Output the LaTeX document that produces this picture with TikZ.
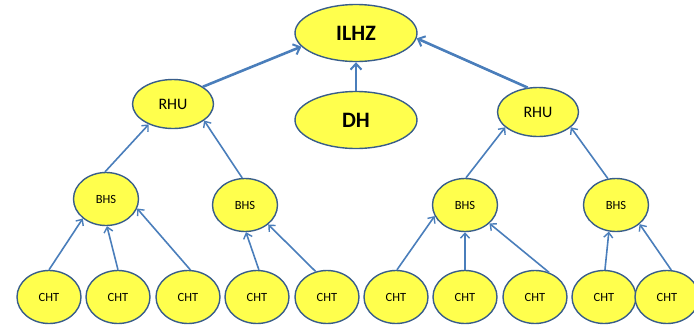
\documentclass[tikz,border=0pt]{standalone}
\usepackage{fontspec}
\setmainfont{Carlito}
\usetikzlibrary{shapes.geometric,arrows.meta}
\definecolor{fillY}{RGB}{255,255,77}
\definecolor{edgeB}{RGB}{56,93,138}
\definecolor{lineB}{RGB}{74,126,187}
\tikzset{
  ell/.style={ellipse,draw=edgeB,fill=fillY,line width=1.4pt,inner sep=0pt,text=black},
  big/.style={ell,minimum width=122pt,minimum height=57pt,font=\fontsize{22}{24}\selectfont\bfseries},
  mid/.style={ell,minimum width=81pt,minimum height=49pt,font=\fontsize{16}{18}\selectfont},
  small/.style={ell,minimum width=65pt,minimum height=53pt,font=\fontsize{12.5}{14}\selectfont},
  leaf/.style={ell,minimum width=64pt,minimum height=53pt,font=\fontsize{12.5}{14}\selectfont},
  thick arr/.style={draw=lineB,line width=2.6pt,-{Straight Barb[length=6pt,width=11pt,line width=2pt]}},
  thin arr/.style={draw=lineB,line width=1.6pt,-{Straight Barb[length=5pt,width=9pt,line width=1.4pt]}},
}
\begin{document}
\begin{tikzpicture}[x=1pt,y=-1pt]
\useasboundingbox (0,0) rectangle (694,325);
% nodes
\node[big] (ilhz) at (356,33) {ILHZ};
\node[big] (dh) at (356,120) {DH};
\node[mid] (rhuL) at (173,104) {RHU};
\node[mid] (rhuR) at (538,112) {RHU};
\node[small] (bhs1) at (106,199) {BHS};
\node[small] (bhs2) at (245,205) {BHS};
\node[small] (bhs3) at (465,205) {BHS};
\node[small] (bhs4) at (616,205) {BHS};
\node[leaf] (c1) at (49,297) {CHT};
\node[leaf] (c2) at (118,297) {CHT};
\node[leaf] (c3) at (188,297) {CHT};
\node[leaf] (c4) at (257,297) {CHT};
\node[leaf] (c5) at (327,297) {CHT};
\node[leaf] (c6) at (396,297) {CHT};
\node[leaf] (c7) at (465,297) {CHT};
\node[leaf] (c8) at (535,297) {CHT};
\node[leaf] (c9) at (604,297) {CHT};
\node[leaf] (c10) at (667,297) {CHT};
% top arrows
\draw[thick arr] (rhuL.30) -- (ilhz.194);
\draw[thick arr] (dh.north) -- (ilhz.south);
\draw[thick arr] (rhuR.113) -- (ilhz.355);
% middle arrows
\draw[thin arr] (bhs1.92) -- (rhuL.220);
\draw[thin arr] (bhs2.96) -- (rhuL.332);
\draw[thin arr] (bhs3.88) -- (rhuR.205);
\draw[thin arr] (bhs4.107) -- (rhuR.335);
% bottom arrows
\draw[thin arr] (c1.90) -- (bhs1.220);
\draw[thin arr] (c2.90) -- (bhs1.272);
\draw[thin arr] (c3.85) -- (bhs1.343);
\draw[thin arr] (c4.86) -- (bhs2.272);
\draw[thin arr] (c5.114) -- (bhs2.320);
\draw[thin arr] (c6.88) -- (bhs3.200);
\draw[thin arr] (c7.90) -- (bhs3.270);
\draw[thin arr] (c8.60) -- (bhs3.323);
\draw[thin arr] (c9.88) -- (bhs4.255);
\draw[thin arr] (c10.81) -- (bhs4.321);
\end{tikzpicture}
\end{document}
